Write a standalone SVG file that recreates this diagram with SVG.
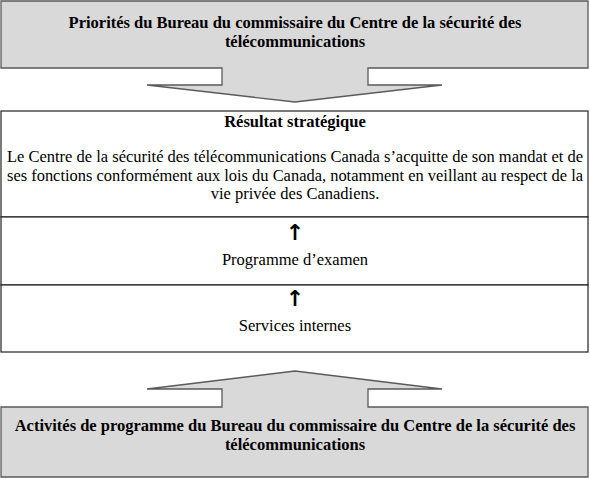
<svg xmlns="http://www.w3.org/2000/svg" width="590" height="479" viewBox="0 0 590 479">
<style>
.callout{fill:#d9d9d9;stroke:#5a5a5a;stroke-width:1.3}
.box{fill:#ffffff;stroke:#222;stroke-width:1.2}
.t{font-family:"Liberation Serif","Times New Roman",serif;font-size:16.5px;fill:#000}
.b{font-weight:bold}
.c{text-anchor:middle}
.arr{font-family:"DejaVu Sans",sans-serif;font-weight:bold;font-size:22px;text-anchor:middle;fill:#000}
</style>
<rect width="590" height="479" fill="#fff"/>
<g id="node-priorites">
<path class="callout" d="M1,1 H588 V68 H368 V85 H442 L295,102 L147,85 H222 V68 H1 Z"/>
<text class="t b c" x="295" y="28">Priorités du Bureau du commissaire du Centre de la sécurité des</text>
<text class="t b c" x="295" y="47">télécommunications</text>
</g>
<g id="node-resultat">
<rect class="box" x="1" y="111" width="587" height="106"/>
<text class="t b c" x="295" y="127">Résultat stratégique</text>
<text class="t" x="7" y="162" textLength="576" lengthAdjust="spacingAndGlyphs">Le Centre de la sécurité des télécommunications Canada s’acquitte de son mandat et de</text>
<text class="t" x="7" y="181" textLength="576" lengthAdjust="spacingAndGlyphs">ses fonctions conformément aux lois du Canada, notamment en veillant au respect de la</text>
<text class="t c" x="295" y="199">vie privée des Canadiens.</text>
</g>
<g id="node-programme">
<rect class="box" x="1" y="217" width="587" height="68"/>
<text class="t c" x="295" y="265">Programme d’examen</text>
</g>
<g id="node-services">
<rect class="box" x="1" y="285" width="587" height="67"/>
<text class="t c" x="295" y="331">Services internes</text>
</g>
<g id="node-activites">
<path class="callout" d="M1,407 H222 V389 H147 L295,371 L442,389 H368 V407 H588 V477 H1 Z"/>
<text class="t b c" x="295" y="431">Activités de programme du Bureau du commissaire du Centre de la sécurité des</text>
<text class="t b c" x="295" y="450">télécommunications</text>
</g>
<g id="connectors">
<text class="arr" x="295" y="240">↑</text>
<text class="arr" x="295" y="306">↑</text>
</g>
</svg>
